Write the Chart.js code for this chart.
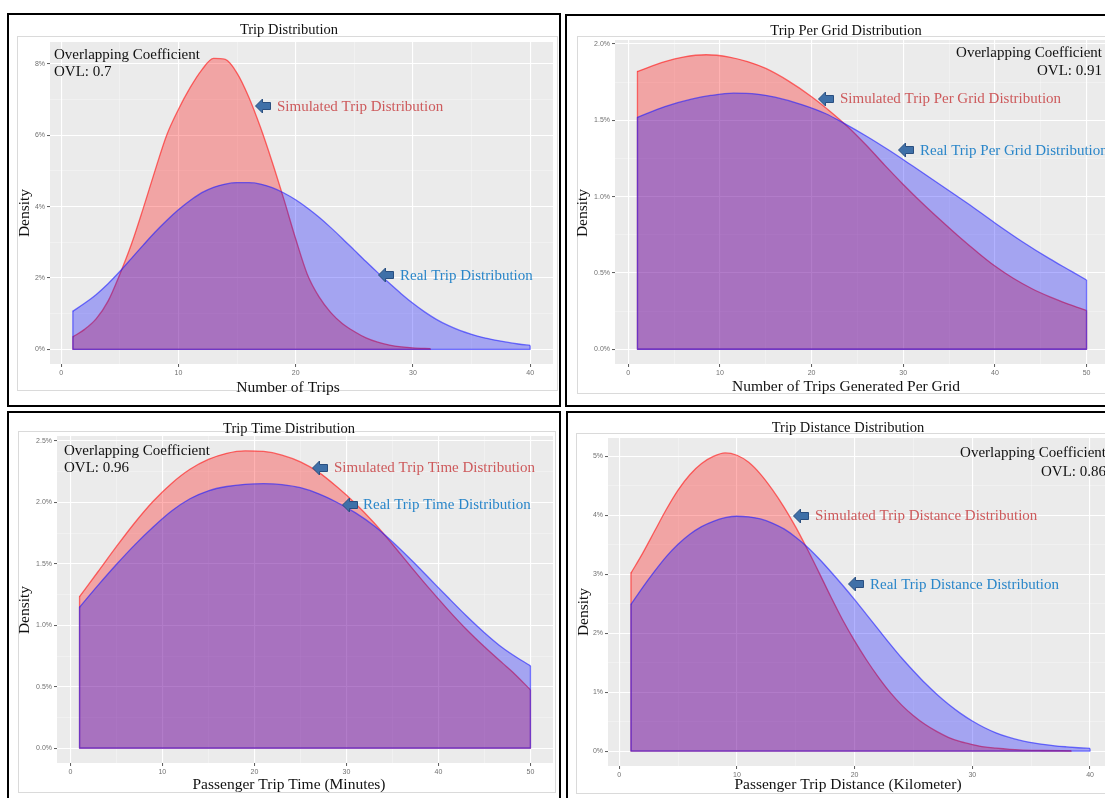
<!DOCTYPE html>
<html>
<head>
<meta charset="utf-8">
<title>Trip distributions</title>
<script src="https://cdn.jsdelivr.net/npm/chart.js@4.4.1/dist/chart.umd.min.js"></script>
<style>
  html, body { margin: 0; padding: 0; background: #fff; }
  body { position: relative; width: 1105px; height: 798px; overflow: hidden; }
  .frame { position: absolute; border: 2px solid #000; box-sizing: border-box; }
  .plotbox { position: absolute; border: 1px solid #dadada; box-sizing: border-box; }
  canvas { position: absolute; }
</style>
</head>
<body>
<div class="frame" style="left:7px;top:13px;width:554px;height:394px"></div>
<div class="frame" style="left:565px;top:14px;width:600px;height:393px"></div>
<div class="frame" style="left:7px;top:411px;width:554px;height:420px"></div>
<div class="frame" style="left:566px;top:411px;width:600px;height:420px"></div>
<div class="plotbox" style="left:17px;top:36px;width:541px;height:355px"></div>
<div class="plotbox" style="left:577px;top:36px;width:600px;height:358px"></div>
<div class="plotbox" style="left:18px;top:431px;width:538px;height:362px"></div>
<div class="plotbox" style="left:576px;top:433px;width:600px;height:361px"></div>

<canvas id="tripChart" width="548" height="388" style="left:10px;top:16px"></canvas>
<canvas id="gridChart" width="560" height="387" style="left:569px;top:17px"></canvas>
<canvas id="timeChart" width="548" height="384" style="left:10px;top:414px"></canvas>
<canvas id="distChart" width="560" height="384" style="left:570px;top:414px"></canvas>

<script>
// --- Data: Trip Distribution (density in %) ---
const tripSimX = [1, 2, 3, 4, 5, 6, 7, 8, 9, 10, 11, 12, 13, 14, 15, 16, 17, 18, 19, 20, 21, 22, 23, 24, 25, 26, 27, 28, 29, 30, 31.5];
const tripSimY = [0.35, 0.56, 0.86, 1.35, 2.1, 2.95, 3.95, 5.0, 6.0, 6.72, 7.33, 7.83, 8.15, 8.12, 7.74, 7.07, 6.22, 5.25, 4.2, 3.1, 2.1, 1.47, 1.03, 0.72, 0.5, 0.32, 0.2, 0.12, 0.07, 0.04, 0.02];
const tripRealX = [1, 2, 3, 4, 5, 6, 7, 8, 9, 10, 11, 12, 13, 14, 15, 16, 17, 18, 19, 20, 21, 22, 23, 24, 25, 26, 27, 28, 29, 30, 31, 32, 33, 34, 35, 36, 37, 38, 39, 40];
const tripRealY = [1.07, 1.29, 1.54, 1.84, 2.18, 2.55, 2.92, 3.28, 3.61, 3.91, 4.17, 4.39, 4.54, 4.63, 4.67, 4.67, 4.63, 4.53, 4.38, 4.19, 3.96, 3.7, 3.41, 3.1, 2.78, 2.46, 2.15, 1.85, 1.56, 1.29, 1.05, 0.84, 0.67, 0.53, 0.42, 0.33, 0.26, 0.2, 0.15, 0.11];
const tripXTicks = [0, 10, 20, 30, 40];
const tripXLabels = ['0', '10', '20', '30', '40'];
const tripYTicks = [0, 2, 4, 6, 8];
const tripYLabels = ['0%', '2%', '4%', '6%', '8%'];

// --- Data: Trip Per Grid Distribution ---
const gridSimX = [1, 4, 6, 8.5, 11, 13, 15, 17.5, 20, 22, 24, 26, 28, 30, 32, 34, 36, 38, 40, 42, 44, 46, 48, 50];
const gridSimY = [1.82, 1.885, 1.915, 1.93, 1.915, 1.885, 1.84, 1.757, 1.655, 1.56, 1.455, 1.335, 1.205, 1.08, 0.962, 0.85, 0.742, 0.64, 0.545, 0.465, 0.398, 0.343, 0.296, 0.254];
const gridRealX = [1, 4, 7, 9, 11.5, 14, 16, 19, 21.5, 23.5, 26, 28.5, 31, 34, 37, 40, 43, 46, 48, 50];
const gridRealY = [1.52, 1.59, 1.64, 1.663, 1.678, 1.672, 1.652, 1.602, 1.545, 1.482, 1.396, 1.302, 1.202, 1.08, 0.957, 0.828, 0.705, 0.592, 0.523, 0.454];
const gridXTicks = [0, 10, 20, 30, 40, 50];
const gridXLabels = ['0', '10', '20', '30', '40', '50'];
const gridYTicks = [0, 0.5, 1, 1.5, 2];
const gridYLabels = ['0.0%', '0.5%', '1.0%', '1.5%', '2.0%'];

// --- Data: Trip Time Distribution ---
const timeSimX = [1, 3, 5, 7, 9, 11, 13, 15, 17, 19, 21, 23, 25, 27, 29, 31, 33, 35, 37, 39, 41, 43, 45, 47, 48, 50];
const timeSimY = [1.234, 1.436, 1.64, 1.835, 2.01, 2.155, 2.27, 2.35, 2.4, 2.42, 2.415, 2.385, 2.33, 2.245, 2.125, 1.99, 1.835, 1.66, 1.478, 1.3, 1.13, 0.97, 0.825, 0.69, 0.624, 0.475];
const timeRealX = [1, 3, 5, 7, 9, 11, 13, 15, 17, 19, 21, 23, 25, 27, 29, 31, 33, 35, 37, 39, 41, 43, 45, 47, 49, 50];
const timeRealY = [1.147, 1.325, 1.495, 1.655, 1.8, 1.93, 2.03, 2.095, 2.13, 2.148, 2.153, 2.145, 2.12, 2.07, 2.0, 1.915, 1.81, 1.68, 1.535, 1.383, 1.23, 1.08, 0.94, 0.815, 0.715, 0.67];
const timeXTicks = [0, 10, 20, 30, 40, 50];
const timeXLabels = ['0', '10', '20', '30', '40', '50'];
const timeYTicks = [0, 0.5, 1, 1.5, 2, 2.5];
const timeYLabels = ['0.0%', '0.5%', '1.0%', '1.5%', '2.0%', '2.5%'];

// --- Data: Trip Distance Distribution ---
const distSimX = [1, 2, 3, 4, 5, 6, 7, 8, 9, 10, 11, 12, 13, 14, 15, 16, 17, 18, 19, 20, 21, 22, 23, 24, 25, 26, 27, 28, 29, 30, 31, 32, 34, 36, 38.4];
const distSimY = [3.02, 3.36, 3.73, 4.1, 4.43, 4.69, 4.88, 5.0, 5.06, 5.02, 4.9, 4.7, 4.44, 4.14, 3.8, 3.42, 3.02, 2.61, 2.22, 1.87, 1.55, 1.26, 1.0, 0.78, 0.6, 0.45, 0.33, 0.23, 0.16, 0.11, 0.07, 0.05, 0.02, 0.01, 0.005];
const distRealX = [1, 2, 3, 4, 5, 6, 7, 8, 9, 10, 11, 12, 13, 14, 15, 16, 17, 18, 19, 20, 21, 22, 23, 24, 25, 26, 27, 28, 29, 30, 31, 32, 33, 34, 35, 36, 37, 38, 39, 40];
const distRealY = [2.49, 2.78, 3.05, 3.3, 3.51, 3.68, 3.81, 3.9, 3.96, 3.985, 3.975, 3.94, 3.87, 3.77, 3.63, 3.46, 3.26, 3.04, 2.81, 2.57, 2.32, 2.07, 1.82, 1.58, 1.36, 1.15, 0.96, 0.79, 0.64, 0.51, 0.4, 0.31, 0.24, 0.185, 0.145, 0.115, 0.09, 0.072, 0.057, 0.045];
const distXTicks = [0, 10, 20, 30, 40];
const distXLabels = ['0', '10', '20', '30', '40'];
const distYTicks = [0, 1, 2, 3, 4, 5];
const distYLabels = ['0%', '1%', '2%', '3%', '4%', '5%'];

// --- Styles ---
const RED_FILL = 'rgba(255, 0, 0, 0.3)';
const BLUE_FILL = 'rgba(0, 0, 255, 0.3)';
const RED_LINE = 'rgba(255, 30, 30, 0.65)';
const BLUE_LINE = 'rgba(30, 30, 255, 0.6)';
const SIM_TEXT = '#cd5a5c';
const REAL_TEXT = '#2a86c9';
const SERIF = '"Liberation Serif", "Times New Roman", serif';
const SANS = '"Liberation Sans", Arial, sans-serif';

function toPoints(xs, ys) {
    return xs.map((x, i) => ({ x: x, y: ys[i] }));
}

// closing edges of the density polygon (left side, baseline, right side)
function outline(xs, ys) {
    const n = xs.length - 1;
    return [{ x: xs[0], y: ys[0] }, { x: xs[0], y: 0 }, { x: xs[n], y: 0 }, { x: xs[n], y: ys[n] }];
}

function indexOfTick(v, list) {
    return list.findIndex(t => Math.abs(t - v) < 1e-6);
}

function drawArrow(ctx, cx, cy) {
    ctx.beginPath();
    ctx.moveTo(cx - 7.5, cy);
    ctx.lineTo(cx - 0.5, cy - 7);
    ctx.lineTo(cx - 0.5, cy - 3.5);
    ctx.lineTo(cx + 7.5, cy - 3.5);
    ctx.lineTo(cx + 7.5, cy + 3.5);
    ctx.lineTo(cx - 0.5, cy + 3.5);
    ctx.lineTo(cx - 0.5, cy + 7);
    ctx.closePath();
    ctx.fillStyle = '#3f70a8';
    ctx.fill();
    ctx.strokeStyle = '#2a4f80';
    ctx.lineWidth = 1;
    ctx.stroke();
}

function axis(min, max, minorStep, majors, labels, size) {
    return {
        type: 'linear',
        min: min,
        max: max,
        afterFit: s => { if (s.isHorizontal()) s.height = size; else s.width = size; },
        border: { display: false },
        grid: {
            color: c => (c.tick && indexOfTick(c.tick.value, majors) >= 0) ? '#ffffff' : 'rgba(255,255,255,0.55)',
            lineWidth: c => (c.tick && indexOfTick(c.tick.value, majors) >= 0) ? 1.1 : 0.6,
            tickColor: c => (c.tick && indexOfTick(c.tick.value, majors) >= 0) ? '#5a5a5a' : 'rgba(0,0,0,0)',
            tickWidth: 1,
            tickLength: 3
        },
        ticks: {
            stepSize: minorStep,
            includeBounds: false,
            autoSkip: false,
            maxRotation: 0,
            padding: 2,
            color: '#707070',
            font: { family: SANS, size: 7 },
            callback: v => {
                const i = indexOfTick(v, majors);
                return i < 0 ? '' : labels[i];
            }
        }
    };
}

function makeDensityChart(id, p) {
    const overlay = {
        id: 'overlay',
        beforeDraw(chart) {
            const a = chart.chartArea;
            const ctx = chart.ctx;
            ctx.save();
            ctx.fillStyle = '#ebebeb';
            ctx.fillRect(a.left, a.top, a.right - a.left, a.bottom - a.top);
            ctx.restore();
        },
        afterDraw(chart) {
            const ctx = chart.ctx;
            ctx.save();
            ctx.textBaseline = 'middle';
            ctx.fillStyle = '#111';
            ctx.textAlign = 'center';
            ctx.font = '14.5px ' + SERIF;
            ctx.fillText(p.title.text, p.title.x, p.title.y);
            ctx.font = '15.5px ' + SERIF;
            ctx.fillText(p.xTitle.text, p.xTitle.x, p.xTitle.y);
            ctx.save();
            ctx.translate(p.yTitle.x, p.yTitle.y);
            ctx.rotate(-Math.PI / 2);
            ctx.fillText(p.yTitle.text, 0, 0);
            ctx.restore();
            p.notes.forEach(n => {
                if (n.arrow) { drawArrow(ctx, n.x, n.y); return; }
                ctx.font = '15px ' + SERIF;
                ctx.fillStyle = n.color || '#111';
                ctx.textAlign = n.align || 'left';
                ctx.fillText(n.text, n.x, n.y);
            });
            ctx.restore();
        }
    };

    const curve = { borderWidth: 1.3, pointRadius: 0, fill: 'origin', cubicInterpolationMode: 'monotone' };
    const edge = { borderWidth: 1.3, pointRadius: 0, fill: false, tension: 0 };

    return new Chart(document.getElementById(id), {
        type: 'line',
        data: {
            datasets: [
                Object.assign({ data: outline(p.realX, p.realY), borderColor: BLUE_LINE, order: 0 }, edge),
                Object.assign({ data: toPoints(p.realX, p.realY), borderColor: BLUE_LINE, backgroundColor: BLUE_FILL, order: 1 }, curve),
                Object.assign({ data: outline(p.simX, p.simY), borderColor: RED_LINE, order: 2 }, edge),
                Object.assign({ data: toPoints(p.simX, p.simY), borderColor: RED_LINE, backgroundColor: RED_FILL, order: 3 }, curve)
            ]
        },
        options: {
            responsive: false,
            animation: false,
            devicePixelRatio: 1,
            events: [],
            layout: { padding: { left: 0, top: p.padTop, right: p.padRight, bottom: 0 } },
            elements: { line: { borderJoinStyle: 'round' } },
            plugins: { legend: { display: false }, tooltip: { enabled: false }, title: { display: false } },
            scales: {
                x: Object.assign(axis(p.xRange[0], p.xRange[1], p.xMinor, p.xTicks, p.xLabels, p.xAxisH), { position: 'bottom' }),
                y: Object.assign(axis(p.yRange[0], p.yRange[1], p.yMinor, p.yTicks, p.yLabels, p.yAxisW), { position: 'left' })
            }
        },
        plugins: [overlay]
    });
}

// --- Trip Distribution ---
makeDensityChart('tripChart', {
    simX: tripSimX, simY: tripSimY, realX: tripRealX, realY: tripRealY,
    xTicks: tripXTicks, xLabels: tripXLabels, yTicks: tripYTicks, yLabels: tripYLabels,
    xRange: [-0.95, 41.95], yRange: [-0.41, 8.61], xMinor: 5, yMinor: 1,
    padTop: 26, padRight: 5, yAxisW: 40, xAxisH: 40,
    title: { text: 'Trip Distribution', x: 279, y: 14 },
    xTitle: { text: 'Number of Trips', x: 278, y: 372 },
    yTitle: { text: 'Density', x: 15, y: 197 },
    notes: [
        { text: 'Overlapping Coefficient', x: 44, y: 39 },
        { text: 'OVL: 0.7', x: 44, y: 56 },
        { arrow: true, x: 253, y: 90 },
        { text: 'Simulated Trip Distribution', x: 267, y: 91, color: SIM_TEXT },
        { arrow: true, x: 376, y: 259 },
        { text: 'Real Trip Distribution', x: 390, y: 260, color: REAL_TEXT }
    ]
});

// --- Trip Per Grid Distribution ---
makeDensityChart('gridChart', {
    simX: gridSimX, simY: gridSimY, realX: gridRealX, realY: gridRealY,
    xTicks: gridXTicks, xLabels: gridXLabels, yTicks: gridYTicks, yLabels: gridYLabels,
    xRange: [-1.45, 52.45], yRange: [-0.0965, 2.0265], xMinor: 5, yMinor: 0.25,
    padTop: 23, padRight: 20, yAxisW: 46, xAxisH: 40,
    title: { text: 'Trip Per Grid Distribution', x: 277, y: 14 },
    xTitle: { text: 'Number of Trips Generated Per Grid', x: 277, y: 370 },
    yTitle: { text: 'Density', x: 14, y: 196 },
    notes: [
        { text: 'Overlapping Coefficient', x: 533, y: 36, align: 'right' },
        { text: 'OVL: 0.91', x: 533, y: 54, align: 'right' },
        { arrow: true, x: 257, y: 82 },
        { text: 'Simulated Trip Per Grid Distribution', x: 271, y: 82, color: SIM_TEXT },
        { arrow: true, x: 337, y: 133 },
        { text: 'Real Trip Per Grid Distribution', x: 351, y: 134, color: REAL_TEXT }
    ]
});

// --- Trip Time Distribution ---
makeDensityChart('timeChart', {
    simX: timeSimX, simY: timeSimY, realX: timeRealX, realY: timeRealY,
    xTicks: timeXTicks, xLabels: timeXLabels, yTicks: timeYTicks, yLabels: timeYLabels,
    xRange: [-1.45, 52.45], yRange: [-0.121, 2.541], xMinor: 5, yMinor: 0.25,
    padTop: 22, padRight: 5, yAxisW: 47, xAxisH: 35,
    title: { text: 'Trip Time Distribution', x: 279, y: 15 },
    xTitle: { text: 'Passenger Trip Time (Minutes)', x: 279, y: 371 },
    yTitle: { text: 'Density', x: 15, y: 196 },
    notes: [
        { text: 'Overlapping Coefficient', x: 54, y: 37 },
        { text: 'OVL: 0.96', x: 54, y: 54 },
        { arrow: true, x: 310, y: 54 },
        { text: 'Simulated Trip Time Distribution', x: 324, y: 54, color: SIM_TEXT },
        { arrow: true, x: 340, y: 91 },
        { text: 'Real Trip Time Distribution', x: 353, y: 91, color: REAL_TEXT }
    ]
});

// --- Trip Distance Distribution ---
makeDensityChart('distChart', {
    simX: distSimX, simY: distSimY, realX: distRealX, realY: distRealY,
    xTicks: distXTicks, xLabels: distXLabels, yTicks: distYTicks, yLabels: distYLabels,
    xRange: [-0.95, 41.95], yRange: [-0.253, 5.313], xMinor: 5, yMinor: 0.5,
    padTop: 24, padRight: 17, yAxisW: 38, xAxisH: 32,
    title: { text: 'Trip Distance Distribution', x: 278, y: 14 },
    xTitle: { text: 'Passenger Trip Distance (Kilometer)', x: 278, y: 371 },
    yTitle: { text: 'Density', x: 14, y: 198 },
    notes: [
        { text: 'Overlapping Coefficient', x: 536, y: 39, align: 'right' },
        { text: 'OVL: 0.86', x: 536, y: 58, align: 'right' },
        { arrow: true, x: 231, y: 102 },
        { text: 'Simulated Trip Distance Distribution', x: 245, y: 102, color: SIM_TEXT },
        { arrow: true, x: 286, y: 170 },
        { text: 'Real Trip Distance Distribution', x: 300, y: 171, color: REAL_TEXT }
    ]
});
</script>
</body>
</html>
